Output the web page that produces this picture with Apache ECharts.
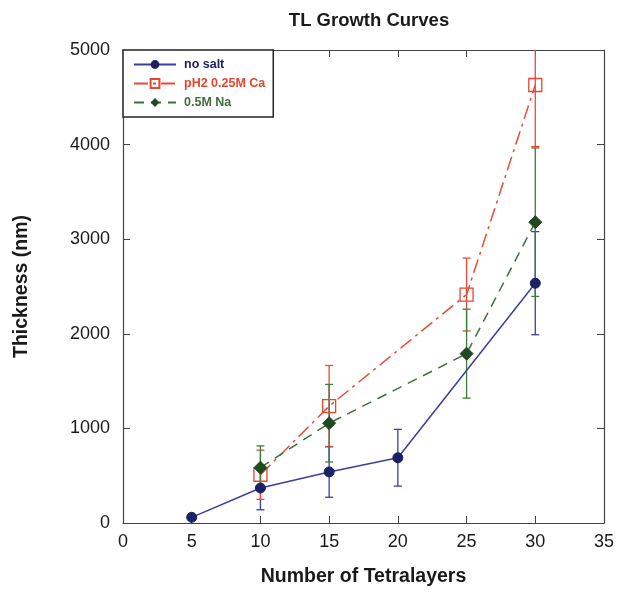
<!DOCTYPE html>
<html>
<head>
<meta charset="utf-8">
<script src="https://cdn.jsdelivr.net/npm/echarts@6/dist/echarts.min.js"></script>
<style>
html,body{margin:0;padding:0;background:#fff;}
#chart{width:618px;height:592px;}
</style>
</head>
<body>
<div id="chart"></div>
<script>
// ---- data ----
const seriesNames = ['no salt', 'pH2 0.25M Ca', '0.5M Na'];
const noSaltX = [5, 10, 15, 20, 30];
const noSaltY = [60, 370, 540, 690, 2535];
const noSaltErr = [0, 230, 268, 300, 545];
const caX = [10, 15, 25, 30];
const caY = [510, 1235, 2415, 4630];
const caErr = [260, 430, 385, 650];
const naX = [10, 15, 25, 30];
const naY = [585, 1055, 1790, 3180];
const naErr = [230, 410, 470, 785];
const xTicks = [0, 5, 10, 15, 20, 25, 30, 35];
const yTicks = [0, 1000, 2000, 3000, 4000, 5000];

const colors = {
  blueLine: '#3b3f9c', blueMark: '#1c2166',
  redLine: '#ea4a35', redMark: '#e8452f',
  greenLine: '#3f6e3f', greenMark: '#1f4a22'
};
const Y_MAX = yTicks[yTicks.length - 1];

function pairs(xs, ys) { return xs.map((x, i) => [x, ys[i]]); }
function errData(xs, ys, es) { return xs.map((x, i) => [x, ys[i] - es[i], ys[i] + es[i]]); }

function errRender(color) {
  return function (params, api) {
    const x = api.value(0), lo = api.value(1), hi = api.value(2);
    if (hi - lo <= 0) return null;
    const hiC = Math.min(hi, Y_MAX);
    const pLo = api.coord([x, lo]);
    const pHi = api.coord([x, hiC]);
    const cw = 4;
    const style = { stroke: color, lineWidth: 1.3 };
    const children = [
      { type: 'line', shape: { x1: pLo[0], y1: pLo[1], x2: pHi[0], y2: pHi[1] }, style: style },
      { type: 'line', shape: { x1: pLo[0] - cw, y1: pLo[1], x2: pLo[0] + cw, y2: pLo[1] }, style: style }
    ];
    if (hi <= Y_MAX) {
      children.push({ type: 'line', shape: { x1: pHi[0] - cw, y1: pHi[1], x2: pHi[0] + cw, y2: pHi[1] }, style: style });
    }
    return { type: 'group', children: children };
  };
}

const chart = echarts.init(document.getElementById('chart'));
function axisCommon() {
  return {
    axisLine: { onZero: false, lineStyle: { color: '#444', width: 1.2 } },
    axisTick: { inside: true, length: 7, lineStyle: { color: '#444' } },
    splitLine: { show: false }
  };
}
const labelFont = { fontFamily: 'Liberation Sans', fontSize: 18, color: '#1a1a1a' };
const nameFont = { fontFamily: 'Liberation Sans', fontWeight: 'bold', fontSize: 19.5, color: '#1a1a1a' };
chart.setOption({
  animation: false,
  backgroundColor: '#fff',
  title: {
    text: 'TL Growth Curves', left: 364, top: 6, textAlign: 'center',
    textStyle: { fontFamily: 'Liberation Sans', fontWeight: 'bold', fontSize: 18.5, color: '#1a1a1a' }
  },
  grid: { left: 123, right: 14, top: 50, bottom: 60 },
  legend: {
    data: seriesNames.map((n, i) => ({
      name: n,
      textStyle: { color: [colors.blueMark, colors.redMark, colors.greenLine][i] }
    })),
    orient: 'vertical', left: 123, top: 50,
    backgroundColor: '#fff', borderColor: '#222', borderWidth: 1.5, borderRadius: 0,
    padding: [8, 8, 8, 10], itemWidth: 42, itemHeight: 11, itemGap: 6,
    textStyle: { fontFamily: 'Liberation Sans', fontSize: 12.5, fontWeight: 'bold', padding: [0, 0, 0, 3] }
  },
  xAxis: [
    Object.assign(axisCommon(), {
      type: 'value', min: 0, max: 35, interval: 5,
      name: 'Number of Tetralayers', nameLocation: 'middle', nameGap: 44,
      nameTextStyle: nameFont,
      axisLabel: Object.assign({ margin: 10 }, labelFont)
    }),
    Object.assign(axisCommon(), {
      type: 'value', min: 0, max: 35, interval: 5, position: 'top',
      axisLabel: { show: false }
    })
  ],
  yAxis: [
    Object.assign(axisCommon(), {
      type: 'value', min: 0, max: 5000, interval: 1000,
      name: 'Thickness (nm)', nameLocation: 'middle', nameGap: 91,
      nameTextStyle: nameFont,
      axisLabel: Object.assign({ margin: 13, formatter: v => String(v) }, labelFont)
    }),
    Object.assign(axisCommon(), {
      type: 'value', min: 0, max: 5000, interval: 1000, position: 'right',
      axisLabel: { show: false }
    })
  ],
  series: [
    {
      name: 'err no salt', type: 'custom', renderItem: errRender(colors.blueLine),
      data: errData(noSaltX, noSaltY, noSaltErr), encode: { x: 0, y: [1, 2] }, z: 1, silent: true
    },
    {
      name: 'err ca', type: 'custom', renderItem: errRender(colors.redLine),
      data: errData(caX, caY, caErr), encode: { x: 0, y: [1, 2] }, z: 2, silent: true
    },
    {
      name: 'err na', type: 'custom', renderItem: errRender('#3f7a3a'),
      data: errData(naX, naY, naErr), encode: { x: 0, y: [1, 2] }, z: 3, silent: true
    },
    {
      name: seriesNames[0], type: 'line', data: pairs(noSaltX, noSaltY),
      symbol: 'circle', symbolSize: 10, z: 4,
      lineStyle: { color: colors.blueLine, width: 1.5 },
      itemStyle: { color: colors.blueMark, borderColor: colors.blueMark }
    },
    {
      name: seriesNames[1], type: 'line', data: pairs(caX, caY),
      symbol: 'rect', symbolSize: 13, z: 5,
      lineStyle: { color: colors.redLine, width: 1.5, type: [14, 5, 3, 5] },
      itemStyle: { color: 'transparent', borderColor: colors.redMark, borderWidth: 1.3 }
    },
    {
      name: seriesNames[2], type: 'line', data: pairs(naX, naY),
      symbol: 'diamond', symbolSize: 13, z: 6,
      lineStyle: { color: colors.greenLine, width: 1.5, type: [10, 7] },
      itemStyle: { color: colors.greenMark, borderColor: colors.greenMark }
    }
  ]
});
</script>
</body>
</html>
